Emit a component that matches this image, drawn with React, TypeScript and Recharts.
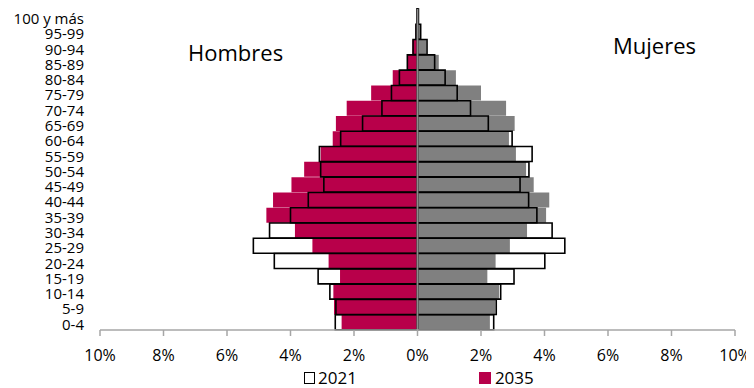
import React from 'react';
import { BarChart, Bar, XAxis, YAxis, ReferenceLine, Legend } from 'recharts';

const ageGroups = ['100 y más', '95-99', '90-94', '85-89', '80-84', '75-79', '70-74', '65-69', '60-64', '55-59', '50-54', '45-49', '40-44', '35-39', '30-34', '25-29', '20-24', '15-19', '10-14', '5-9', '0-4'];

const hombres2021 = [0.02, 0.05, 0.14, 0.32, 0.57, 0.82, 1.12, 1.73, 2.42, 3.09, 3.05, 2.95, 3.44, 4.0, 4.66, 5.17, 4.51, 3.13, 2.76, 2.57, 2.59];
const hombres2035 = [0.03, 0.06, 0.16, 0.33, 0.78, 1.46, 2.23, 2.57, 2.67, 3.05, 3.57, 3.97, 4.55, 4.76, 3.86, 3.31, 2.8, 2.44, 2.65, 2.63, 2.39];
const mujeres2021 = [0.03, 0.1, 0.3, 0.54, 0.87, 1.25, 1.67, 2.23, 2.98, 3.61, 3.51, 3.23, 3.5, 3.76, 4.24, 4.64, 4.01, 3.04, 2.62, 2.48, 2.4];
const mujeres2035 = [0.04, 0.1, 0.28, 0.67, 1.21, 2.0, 2.79, 3.06, 2.88, 3.1, 3.42, 3.66, 4.15, 4.05, 3.45, 2.91, 2.46, 2.2, 2.57, 2.45, 2.28];

const xTicks = [-10, -8, -6, -4, -2, 0, 2, 4, 6, 8, 10];

const data = ageGroups.map((age, i) => ({
  age,
  m21: -hombres2021[i],
  w21: mujeres2021[i],
  m35: -hombres2035[i],
  w35: mujeres2035[i],
}));

const FONT = '"Open Sans", "Noto Sans", sans-serif';
const CRIMSON = '#B8004A';
const GRAY = '#808080';

const renderLegend = () => (
  <div style={{ display: 'flex', alignItems: 'center', fontFamily: FONT, fontSize: 17, color: '#000', lineHeight: '20px', height: 20 }}>
    <span style={{ display: 'flex', alignItems: 'center' }}>
      <span style={{ display: 'inline-block', width: 9, height: 10, border: '1.5px solid #000', background: '#fff', marginRight: 3 }} />
      2021
    </span>
    <span style={{ display: 'flex', alignItems: 'center', marginLeft: 122 }}>
      <span style={{ display: 'inline-block', width: 12, height: 12, background: CRIMSON, marginRight: 4 }} />
      2035
    </span>
  </div>
);

export default function App() {
  return (
    <div style={{ position: 'relative', width: 746, height: 380 }}>
      <BarChart
        width={746}
        height={380}
        data={data}
        layout="vertical"
        stackOffset="sign"
        barCategoryGap={0}
        barGap={0}
        margin={{ top: 1, right: 19, bottom: 28, left: 0 }}
      >
        <XAxis
          type="number"
          domain={[-10, 10]}
          ticks={xTicks}
          allowDataOverflow
          tickFormatter={(v: number) => `${Math.abs(v)}%`}
          axisLine={{ stroke: '#a6a6a6', strokeWidth: 1.5 }}
          tickLine={{ stroke: '#a6a6a6', strokeWidth: 1.5 }}
          tickSize={6}
          tickMargin={14}
          height={30}
          tick={{ fontFamily: FONT, fontSize: 16, fill: '#000' }}
        />
        <YAxis
          yAxisId="a"
          type="category"
          dataKey="age"
          width={92}
          axisLine={false}
          tickLine={false}
          tickSize={0}
          tickMargin={16}
          interval={0}
          tick={{ fontFamily: FONT, fontSize: 15, fill: '#000', dy: 2 }}
        />
        <YAxis yAxisId="b" type="category" dataKey="age" hide />
        <Bar yAxisId="a" dataKey="m35" stackId="s35" name="2035" fill={CRIMSON} isAnimationActive={false} />
        <Bar yAxisId="a" dataKey="w35" stackId="s35" name="2035m" fill={GRAY} isAnimationActive={false} />
        <Bar yAxisId="b" dataKey="m21" stackId="s21" name="2021" fill="none" stroke="#000" strokeWidth={1.6} isAnimationActive={false} />
        <Bar yAxisId="b" dataKey="w21" stackId="s21" name="2021m" fill="none" stroke="#000" strokeWidth={1.6} isAnimationActive={false} />
        <ReferenceLine yAxisId="a" x={0} stroke="#8c8c8c" strokeWidth={1.8} />
        <Legend
          layout="horizontal"
          verticalAlign="middle"
          align="center"
          content={renderLegend}
          wrapperStyle={{ left: 296, top: 360, width: 300, height: 20 }}
        />
      </BarChart>
      <div style={{ position: 'absolute', left: 180, top: 29, fontFamily: FONT, fontSize: 22, lineHeight: '30px', color: '#000' }}>Hombres</div>
      <div style={{ position: 'absolute', left: 605, top: 22, fontFamily: FONT, fontSize: 22, lineHeight: '30px', color: '#000' }}>Mujeres</div>
    </div>
  );
}
